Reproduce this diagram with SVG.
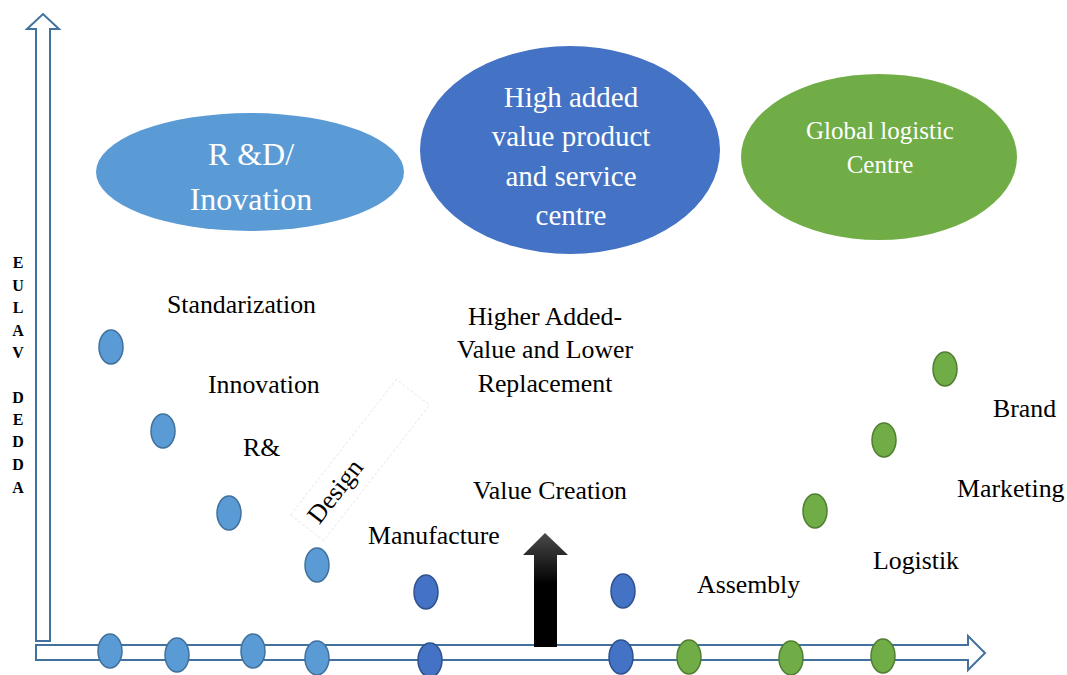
<svg xmlns="http://www.w3.org/2000/svg" width="1067" height="675" viewBox="0 0 1067 675">
  <defs>
    <linearGradient id="upGrad" x1="0" y1="0" x2="0" y2="1">
      <stop offset="0" stop-color="#4a4a4a"/>
      <stop offset="0.45" stop-color="#000"/>
      <stop offset="1" stop-color="#000"/>
    </linearGradient>
  </defs>
  <style>
    .axis { fill: #fff; stroke: #41719C; stroke-width: 2; stroke-linejoin: miter; }
    .lb { fill: #5B9BD5; stroke: #41719C; stroke-width: 1.5; }
    .db { fill: #4472C4; stroke: #2F528F; stroke-width: 1.5; }
    .gr { fill: #70AD47; stroke: #507E32; stroke-width: 1.5; }
    .lbl { font-family: "Liberation Serif", "Times New Roman", serif; font-size: 25.8px; fill: #000; }
    .in { font-family: "Liberation Serif", "Times New Roman", serif; fill: #fff; text-anchor: middle; }
    .vt { font-family: "Liberation Serif", "Times New Roman", serif; font-size: 16px; font-weight: bold; fill: #000; text-anchor: middle; }
  </style>

  <!-- axes -->
  <g id="axes">
    <path class="axis" d="M36,641 L36,29 L27,29 L43,14 L59,29 L50,29 L50,641 Z"/>
    <path class="axis" d="M36,645 L968,645 L968,636 L985,653 L968,670 L968,660 L36,660 Z"/>
  </g>

  <!-- vertical axis caption -->
  <g id="axis-caption">
    <text class="vt" x="18" y="268">E</text>
    <text class="vt" x="18" y="291">U</text>
    <text class="vt" x="18" y="313">L</text>
    <text class="vt" x="18" y="336">A</text>
    <text class="vt" x="18" y="358">V</text>
    <text class="vt" x="18" y="403">D</text>
    <text class="vt" x="18" y="425">E</text>
    <text class="vt" x="18" y="447">D</text>
    <text class="vt" x="18" y="470">D</text>
    <text class="vt" x="18" y="493">A</text>
  </g>

  <!-- stage ellipses -->
  <g id="rnd-innovation">
    <ellipse cx="250" cy="172" rx="154" ry="59" fill="#5B9BD5"/>
    <text class="in" font-size="32" x="251" y="165">R &amp;D/</text>
    <text class="in" font-size="32" x="251" y="210">Inovation</text>
  </g>
  <g id="high-value-centre">
    <ellipse cx="570" cy="150" rx="150" ry="104" fill="#4472C4"/>
    <text class="in" font-size="29" x="571" y="107">High added</text>
    <text class="in" font-size="29" x="571" y="146">value product</text>
    <text class="in" font-size="29" x="571" y="186">and service</text>
    <text class="in" font-size="29" x="571" y="225">centre</text>
  </g>
  <g id="global-logistic">
    <ellipse cx="879" cy="157" rx="138" ry="83" fill="#70AD47"/>
    <text class="in" font-size="25" x="880" y="139">Global logistic</text>
    <text class="in" font-size="25" x="880" y="173">Centre</text>
  </g>

  <!-- labels -->
  <g id="labels">
    <text class="lbl" x="167" y="313">Standarization</text>
    <text class="lbl" x="208" y="393">Innovation</text>
    <text class="lbl" x="243" y="456">R&amp;</text>
    <text class="lbl" x="368" y="544">Manufacture</text>
    <text class="lbl" x="545" y="325" text-anchor="middle">Higher Added-</text>
    <text class="lbl" x="545" y="358" text-anchor="middle">Value and Lower</text>
    <text class="lbl" x="545" y="392" text-anchor="middle">Replacement</text>
    <text class="lbl" x="473" y="499">Value Creation</text>
    <text class="lbl" x="697" y="593">Assembly</text>
    <text class="lbl" x="873" y="569">Logistik</text>
    <text class="lbl" x="957" y="497">Marketing</text>
    <text class="lbl" x="993" y="417">Brand</text>
  </g>

  <!-- rotated design label -->
  <g id="design" transform="translate(360,460) rotate(-52)">
    <rect x="-86" y="-21" width="172" height="42" fill="none" stroke="#ececec" stroke-width="1" stroke-dasharray="3,2"/>
    <text class="lbl" x="-40" y="8" text-anchor="middle">Design</text>
  </g>

  <!-- value creation arrow -->
  <g id="value-arrow">
    <path d="M534,647 L534,555 L523,555 L545,533 L568,555 L557,555 L557,647 Z" fill="url(#upGrad)"/>
  </g>

  <!-- curve points -->
  <g id="curve-points">
    <ellipse class="lb" cx="111" cy="347" rx="12" ry="17"/>
    <ellipse class="lb" cx="163" cy="431" rx="12" ry="17"/>
    <ellipse class="lb" cx="229" cy="513" rx="12" ry="17"/>
    <ellipse class="lb" cx="317" cy="565" rx="12" ry="17"/>
    <ellipse class="db" cx="426" cy="592" rx="12" ry="17"/>
    <ellipse class="db" cx="623" cy="591" rx="12" ry="17"/>
    <ellipse class="gr" cx="815" cy="511" rx="12" ry="17"/>
    <ellipse class="gr" cx="884" cy="440" rx="12" ry="17"/>
    <ellipse class="gr" cx="945" cy="369" rx="12" ry="17"/>
  </g>

  <!-- axis points -->
  <g id="axis-points">
    <ellipse class="lb" cx="110" cy="651" rx="12" ry="17"/>
    <ellipse class="lb" cx="177" cy="655" rx="12" ry="17"/>
    <ellipse class="lb" cx="253" cy="651" rx="12" ry="17"/>
    <ellipse class="lb" cx="317" cy="658" rx="12" ry="17"/>
    <ellipse class="db" cx="430" cy="660" rx="12" ry="17"/>
    <ellipse class="db" cx="621" cy="657" rx="12" ry="17"/>
    <ellipse class="gr" cx="689" cy="657" rx="12" ry="17"/>
    <ellipse class="gr" cx="791" cy="658" rx="12" ry="17"/>
    <ellipse class="gr" cx="883" cy="656" rx="12" ry="17"/>
  </g>
</svg>
